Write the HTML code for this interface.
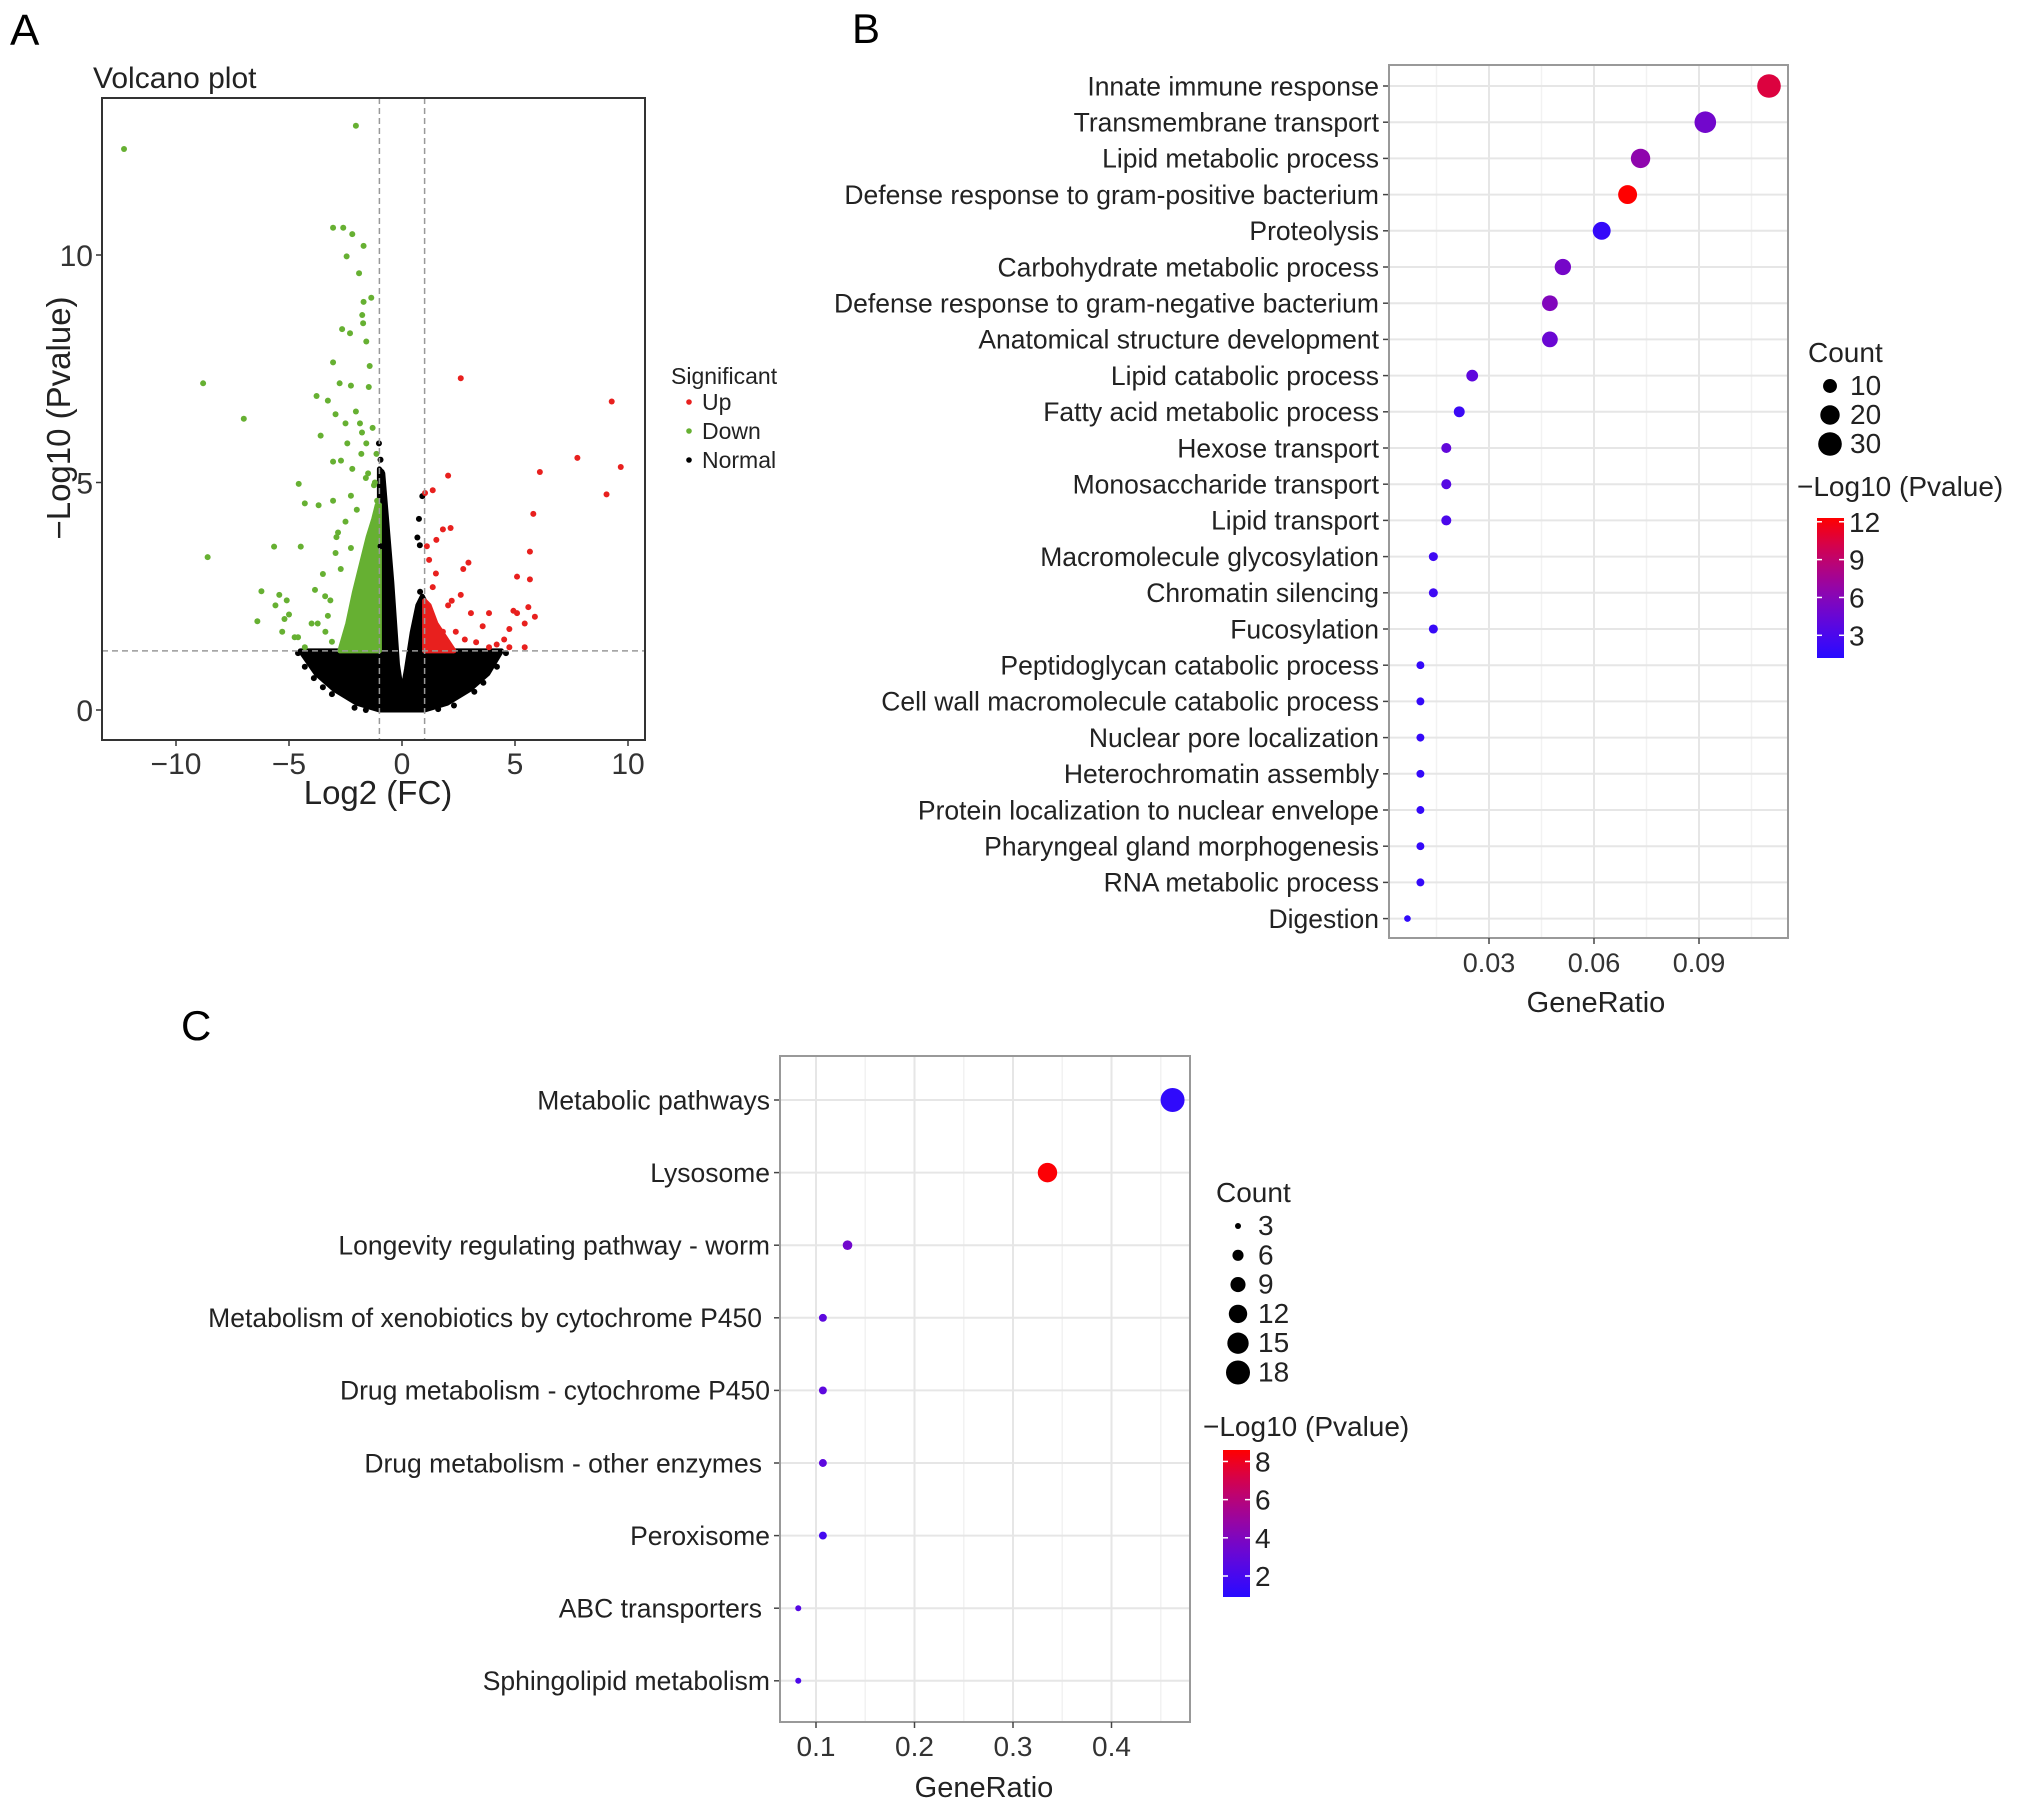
<!DOCTYPE html>
<html><head><meta charset="utf-8">
<style>
html,body{margin:0;padding:0;background:#fff;}
svg{display:block;font-family:"Liberation Sans",Arial,sans-serif;}
</style></head>
<body>
<svg id="fig" width="2032" height="1810" viewBox="0 0 2032 1810" xmlns="http://www.w3.org/2000/svg">
<rect width="2032" height="1810" fill="#fff"/>
<g id="pa"></g>
<g id="pb"></g>
<g id="pc"></g>
</svg>
<script>
// ---------- Panel A data (log2FC, -log10 p) ----------
const downX=[-12.3,-2.04,-8.8,-7.0,-8.6,-3.05,-2.6,-2.2,-1.7,-2.45,-1.9,-1.7,-1.36,-1.76,-1.72,-2.65,-2.3,-1.58,-3.05,-2.76,-2.26,-1.43,-1.47,-3.78,-3.28,-2.94,-2.5,-2.04,-1.86,-1.77,-3.6,-2.42,-1.58,-1.8,-3.05,-2.7,-1.13,-4.57,-4.3,-3.69,-3.05,-2.26,-1.24,-5.66,-4.48,-6.22,-6.4,-5.43,-5.1,-5.0,-5.3,-4.75,-4.3,-3.85,-3.5,-3.28,-3.73,-2.94,-3.17,-3.39,-2.83,-2.5,-2.71,-2.26,-1.2,-1.5,-2.0,-2.9,-3.4,-4.0,-4.6,-5.6,-5.2,-1.3,-1.6,-1.1,-2.2,-3.1];
const downY=[12.33,12.84,7.18,6.4,3.36,10.6,10.6,10.46,10.2,9.97,9.6,8.97,9.06,8.68,8.5,8.37,8.28,8.1,7.64,7.18,7.13,7.56,7.1,6.9,6.8,6.5,6.3,6.56,6.3,6.1,6.03,5.86,5.86,5.63,5.46,5.48,5.63,4.97,4.54,4.5,4.6,4.71,4.94,3.59,3.59,2.61,1.95,2.53,2.41,2.1,1.72,1.6,1.38,2.64,2.99,2.07,1.9,3.45,2.41,1.72,3.9,4.14,3.1,3.56,5.0,5.2,4.4,3.8,2.5,1.9,1.6,2.3,2.0,6.2,5.1,4.6,5.3,1.5];
const upX=[2.6,9.28,7.76,9.68,9.05,6.1,2.04,5.81,1.02,1.36,1.81,2.15,1.52,5.66,2.94,2.71,5.09,5.66,1.36,2.6,3.85,4.93,5.09,5.59,5.88,3.05,2.04,3.57,1.81,2.38,4.75,5.43,4.52,4.19,5.43,4.75,1.13,1.58,2.78,3.28,3.85,1.2,1.1,1.5,2.2];
const upY=[7.29,6.78,5.54,5.34,4.74,5.23,5.15,4.31,4.77,4.83,3.97,4.0,3.74,3.48,3.24,3.1,2.93,2.87,2.7,2.53,2.13,2.18,2.13,2.26,2.05,2.13,2.3,1.84,1.72,1.72,1.78,1.9,1.55,1.44,1.38,1.38,1.38,1.49,1.55,1.49,1.38,3.3,3.6,3.0,2.4];
const normX=[-1.02,-0.9,0.68,0.79,0.9,-0.95,-0.85,0.75,-4.6,-4.3,-3.9,-3.5,-3.1,4.6,4.2,3.6,3.2,-2.1,-1.6,1.6,2.3,0.8,-0.95];
const normY=[5.86,5.23,3.79,3.62,4.7,5.5,4.6,4.2,1.25,0.95,0.7,0.5,0.35,1.25,0.95,0.6,0.4,0.05,0.0,0.02,0.1,2.6,3.6];
// density envelopes (data units)
const downFillX=[-1,-1,-1.1,-1.25,-1.5,-1.8,-2.1,-2.4,-2.75];
const downFillY=[1.3,4.6,4.5,4.2,3.8,3.2,2.6,1.9,1.3];
const upFillX=[1,1,1.2,1.5,1.9,2.3];
const upFillY=[1.3,2.4,2.3,1.9,1.6,1.3];
const normFillX=[-4.5,-1,-1,-0.85,-0.45,-0.2,0,0.2,0.45,0.7,0.9,1,1,4.4,3.8,3.0,2.0,1.0,-1.0,-2.0,-3.0,-3.8];
const normFillY=[1.3,1.3,5.3,5.2,2.8,1.0,0.35,0.9,1.7,2.3,2.5,2.4,1.3,1.3,0.8,0.45,0.15,0.0,0.0,0.15,0.45,0.8];
const aXTicks=[-10,-5,0,5,10];
const aXTickLabels=["\u221210","\u22125","0","5","10"];
const aYTicks=[0,5,10];
const aYTickLabels=["0","5","10"];

// ---------- Panel B data ----------
const bTerms=["Innate immune response","Transmembrane transport","Lipid metabolic process","Defense response to gram-positive bacterium","Proteolysis","Carbohydrate metabolic process","Defense response to gram-negative bacterium","Anatomical structure development","Lipid catabolic process","Fatty acid metabolic process","Hexose transport","Monosaccharide transport","Lipid transport","Macromolecule glycosylation","Chromatin silencing","Fucosylation","Peptidoglycan catabolic process","Cell wall macromolecule catabolic process","Nuclear pore localization","Heterochromatin assembly","Protein localization to nuclear envelope","Pharyngeal gland morphogenesis","RNA metabolic process","Digestion"];
const bRatio=[0.110,0.0918,0.0733,0.0696,0.0622,0.0511,0.0474,0.0474,0.0252,0.0215,0.0178,0.0178,0.0178,0.0141,0.0141,0.0141,0.0104,0.0104,0.0104,0.0104,0.0104,0.0104,0.0104,0.0067];
const bCount=[30,25,20,19,17,14,13,13,7,6,5,5,5,4,4,4,3,3,3,3,3,3,3,2];
const bLogP=[10.5,5.0,6.5,12.3,1.8,5.2,5.8,4.6,4.0,2.2,4.2,3.6,3.0,2.4,2.4,2.0,1.8,1.8,1.8,1.8,1.8,1.8,1.8,1.6];
const bXTicks=[0.03,0.06,0.09];
const bXTickLabels=["0.03","0.06","0.09"];
const bSizeLegend=[10,20,30];
const bColorTicks=[3,6,9,12];

// ---------- Panel C data ----------
const cTerms=["Metabolic pathways","Lysosome","Longevity regulating pathway - worm","Metabolism of xenobiotics by cytochrome P450 ","Drug metabolism - cytochrome P450","Drug metabolism - other enzymes ","Peroxisome","ABC transporters ","Sphingolipid metabolism"];
const cRatio=[0.462,0.335,0.132,0.107,0.107,0.107,0.107,0.082,0.082];
const cCount=[18,13,5,4,4,4,4,3,3];
const cLogP=[1.2,8.5,3.5,2.8,2.8,2.8,1.9,2.5,2.2];
const cXTicks=[0.1,0.2,0.3,0.4];
const cXTickLabels=["0.1","0.2","0.3","0.4"];
const cSizeLegend=[3,6,9,12,15,18];
const cColorTicks=[2,4,6,8];

const NS="http://www.w3.org/2000/svg";
function mk(parent,tag,attrs,txt){const e=document.createElementNS(NS,tag);for(const k in attrs)e.setAttribute(k,attrs[k]);if(txt!==undefined)e.textContent=txt;parent.appendChild(e);return e;}
function col(v,lo,hi){let t=(v-lo)/(hi-lo);t=Math.max(0,Math.min(1,t));const r=Math.round(40+215*t),g=Math.round(10*(1-t)),b=Math.round(255*(1-t)+40*t*(1-t)*4);return `rgb(${Math.min(255,r)},${g},${Math.min(255,b)})`;}

// ================= Panel A =================
(function(){
const g=document.getElementById('pa');
const L=102,R=645,T=98,B=740;
const sx=v=>402+v*22.6, sy=v=>710-v*45.5;
let t;
t=mk(g,'text',{x:10,y:45,'font-size':44,fill:'#000'},'A');

t=mk(g,'text',{x:93,y:88,'font-size':30,fill:'#222'},'Volcano plot');

const clip=mk(g,'clipPath',{id:'clipA'});mk(clip,'rect',{x:L,y:T,width:R-L,height:B-T});
const pg=mk(g,'g',{'clip-path':'url(#clipA)'});

function poly(xs,ys,fill,name){const p=mk(pg,'polygon',{points:xs.map((x,i)=>sx(x)+','+sy(ys[i])).join(' '),fill:fill,stroke:fill,'stroke-width':5,'stroke-linejoin':'round'});}
poly(normFillX,normFillY,'#000','normal-density');
poly(downFillX,downFillY,'#66b032','down-density');
poly(upFillX,upFillY,'#e8201e','up-density');
function pts(xs,ys,fill,name){xs.forEach((x,i)=>{const c=mk(pg,'circle',{cx:sx(x),cy:sy(ys[i]),r:3,fill:fill});});}
pts(normX,normY,'#000','normal-point');
pts(downX,downY,'#66b032','down-point');
pts(upX,upY,'#e8201e','up-point');
[[sx(-1),T,sx(-1),B],[sx(1),T,sx(1),B],[L,sy(1.3),R,sy(1.3)]].forEach(a=>{const l=mk(g,'line',{x1:a[0],y1:a[1],x2:a[2],y2:a[3],stroke:'#999','stroke-width':1.5,'stroke-dasharray':'6,4'});});
t=mk(g,'rect',{x:L,y:T,width:R-L,height:B-T,fill:'none',stroke:'#333','stroke-width':2});

aXTicks.forEach((v,i)=>{mk(g,'line',{x1:sx(v),y1:B,x2:sx(v),y2:B+6,stroke:'#333','stroke-width':1.5});
const tx=mk(g,'text',{x:sx(v),y:B+34,'font-size':30,'text-anchor':'middle',fill:'#333'},aXTickLabels[i]);});
aYTicks.forEach((v,i)=>{mk(g,'line',{x1:L-6,y1:sy(v),x2:L,y2:sy(v),stroke:'#333','stroke-width':1.5});
const tx=mk(g,'text',{x:L-9,y:sy(v)+11,'font-size':30,'text-anchor':'end',fill:'#333'},aYTickLabels[i]);});
t=mk(g,'text',{x:378,y:804,'font-size':33,'text-anchor':'middle',fill:'#222'},'Log2 (FC)');

t=mk(g,'text',{x:0,y:0,'font-size':33,'text-anchor':'middle',fill:'#222',transform:'translate(70,418) rotate(-90)'},'\u2212Log10 (Pvalue)');

t=mk(g,'text',{x:671,y:384,'font-size':23,fill:'#222'},'Significant');

[['Up','#e8201e',410],['Down','#66b032',439],['Normal','#000',468]].forEach(a=>{const e=mk(g,'g',{});mk(e,'circle',{cx:689,cy:a[2]-8,r:2.8,fill:a[1]});mk(e,'text',{x:702,y:a[2],'font-size':23,fill:'#222'},a[0]);});
})();

// ========== dot plot helper ==========
function dotPlot(gid,o){
const g=document.getElementById(gid);
const sx=v=>o.x0px+(v-o.x0)*o.xs;
const rowY=i=>o.rowTop+i*o.rowStep;
const rs=c=>o.rmin+(o.rmax-o.rmin)*(Math.sqrt(c)-Math.sqrt(o.cmin))/(Math.sqrt(o.cmax)-Math.sqrt(o.cmin));
let t=mk(g,'text',{x:o.lblX,y:o.lblY,'font-size':42,fill:'#000'},o.letter);

mk(g,'rect',{x:o.L,y:o.T,width:o.R-o.L,height:o.B-o.T,fill:'#fff'});
o.minor.forEach(v=>{mk(g,'line',{x1:sx(v),y1:o.T,x2:sx(v),y2:o.B,stroke:'#f2f2f2','stroke-width':1.5});});
o.ticks.forEach(v=>{const l=mk(g,'line',{x1:sx(v),y1:o.T,x2:sx(v),y2:o.B,stroke:'#e6e6e6','stroke-width':2});});
o.terms.forEach((n,i)=>{mk(g,'line',{x1:o.L,y1:rowY(i),x2:o.R,y2:rowY(i),stroke:'#e6e6e6','stroke-width':2});});
o.terms.forEach((n,i)=>{
const c=mk(g,'circle',{cx:sx(o.ratio[i]),cy:rowY(i),r:rs(o.count[i]),fill:col(o.logp[i],o.cLo,o.cHi)});

mk(g,'line',{x1:o.L-6,y1:rowY(i),x2:o.L,y2:rowY(i),stroke:'#444','stroke-width':1.5});
const tx=mk(g,'text',{x:o.L-10,y:rowY(i)+o.fs*0.35,'font-size':o.fs,'text-anchor':'end',fill:'#222'},n.trim());
if(n.endsWith(' '))tx.setAttribute('x',o.L-18);

});
const fr=mk(g,'rect',{x:o.L,y:o.T,width:o.R-o.L,height:o.B-o.T,fill:'none',stroke:'#999','stroke-width':2});

o.ticks.forEach((v,i)=>{mk(g,'line',{x1:sx(v),y1:o.B,x2:sx(v),y2:o.B+6,stroke:'#444','stroke-width':1.5});
const tx=mk(g,'text',{x:sx(v),y:o.B+34,'font-size':o.tfs,'text-anchor':'middle',fill:'#333'},o.tickLabels[i]);});
t=mk(g,'text',{x:o.xtX,y:o.xtY,'font-size':29,'text-anchor':'middle',fill:'#222'},'GeneRatio');

t=mk(g,'text',{x:o.sLegX,y:o.sLegY,'font-size':28,fill:'#222'},'Count');

o.sizes.forEach((s,i)=>{const e=mk(g,'g',{});
const y=o.sLegY+33+i*o.sStep;mk(e,'circle',{cx:o.sLegX+22,cy:y-9,r:rs(s),fill:'#000'});mk(e,'text',{x:o.sLegX+42,y:y,'font-size':28,fill:'#222'},String(s));});
t=mk(g,'text',{x:o.cLegX-10,y:o.cLegY,'font-size':28,fill:'#222'},'\u2212Log10 (Pvalue)');

const gid2='grad'+gid;const d=mk(g,'defs',{});const lg=mk(d,'linearGradient',{id:gid2,x1:0,y1:1,x2:0,y2:0});
for(let k=0;k<=10;k++){mk(lg,'stop',{offset:k/10,'stop-color':col(o.cLo+(o.cHi-o.cLo)*k/10,o.cLo,o.cHi)});}
const cb=mk(g,'rect',{x:o.cLegX+10,y:o.cbT,width:27,height:o.cbB-o.cbT,fill:`url(#${gid2})`});

const cy=v=>o.cbB-(v-o.cLo)/(o.cHi-o.cLo)*(o.cbB-o.cbT);
o.cTicks.forEach(v=>{mk(g,'line',{x1:o.cLegX+10,y1:cy(v),x2:o.cLegX+15,y2:cy(v),stroke:'#fff','stroke-width':1.5});mk(g,'line',{x1:o.cLegX+32,y1:cy(v),x2:o.cLegX+37,y2:cy(v),stroke:'#fff','stroke-width':1.5});
const tx=mk(g,'text',{x:o.cLegX+42,y:cy(v)+10,'font-size':28,fill:'#222'},String(v));});
}

dotPlot('pb',{letter:'B',lblX:852,lblY:43,L:1389,R:1788,T:65,B:938,x0:0.03,x0px:1489,xs:3500,
rowTop:86,rowStep:36.2,terms:bTerms,ratio:bRatio,count:bCount,logp:bLogP,cLo:1.2,cHi:12.3,
rmin:3.3,rmax:11.8,cmin:2,cmax:30,fs:26.5,tfs:27,ticks:bXTicks,tickLabels:bXTickLabels,minor:[0.015,0.045,0.075,0.105],
xtX:1596,xtY:1012,sLegX:1808,sLegY:362,sizes:bSizeLegend,sStep:29,
cLegX:1807,cLegY:496,cbT:518,cbB:658,cTicks:bColorTicks});

dotPlot('pc',{letter:'C',lblX:181,lblY:1040,L:780,R:1190,T:1056,B:1722,x0:0.1,x0px:816,xs:985,
rowTop:1100,rowStep:72.6,terms:cTerms,ratio:cRatio,count:cCount,logp:cLogP,cLo:0.9,cHi:8.6,
rmin:3,rmax:12,cmin:3,cmax:18,fs:26.5,tfs:28,ticks:cXTicks,tickLabels:cXTickLabels,minor:[0.15,0.25,0.35,0.45],
xtX:984,xtY:1797,sLegX:1216,sLegY:1202,sizes:cSizeLegend,sStep:29.3,
cLegX:1213,cLegY:1436,cbT:1450,cbB:1597,cTicks:cColorTicks});
</script>
</body></html>
